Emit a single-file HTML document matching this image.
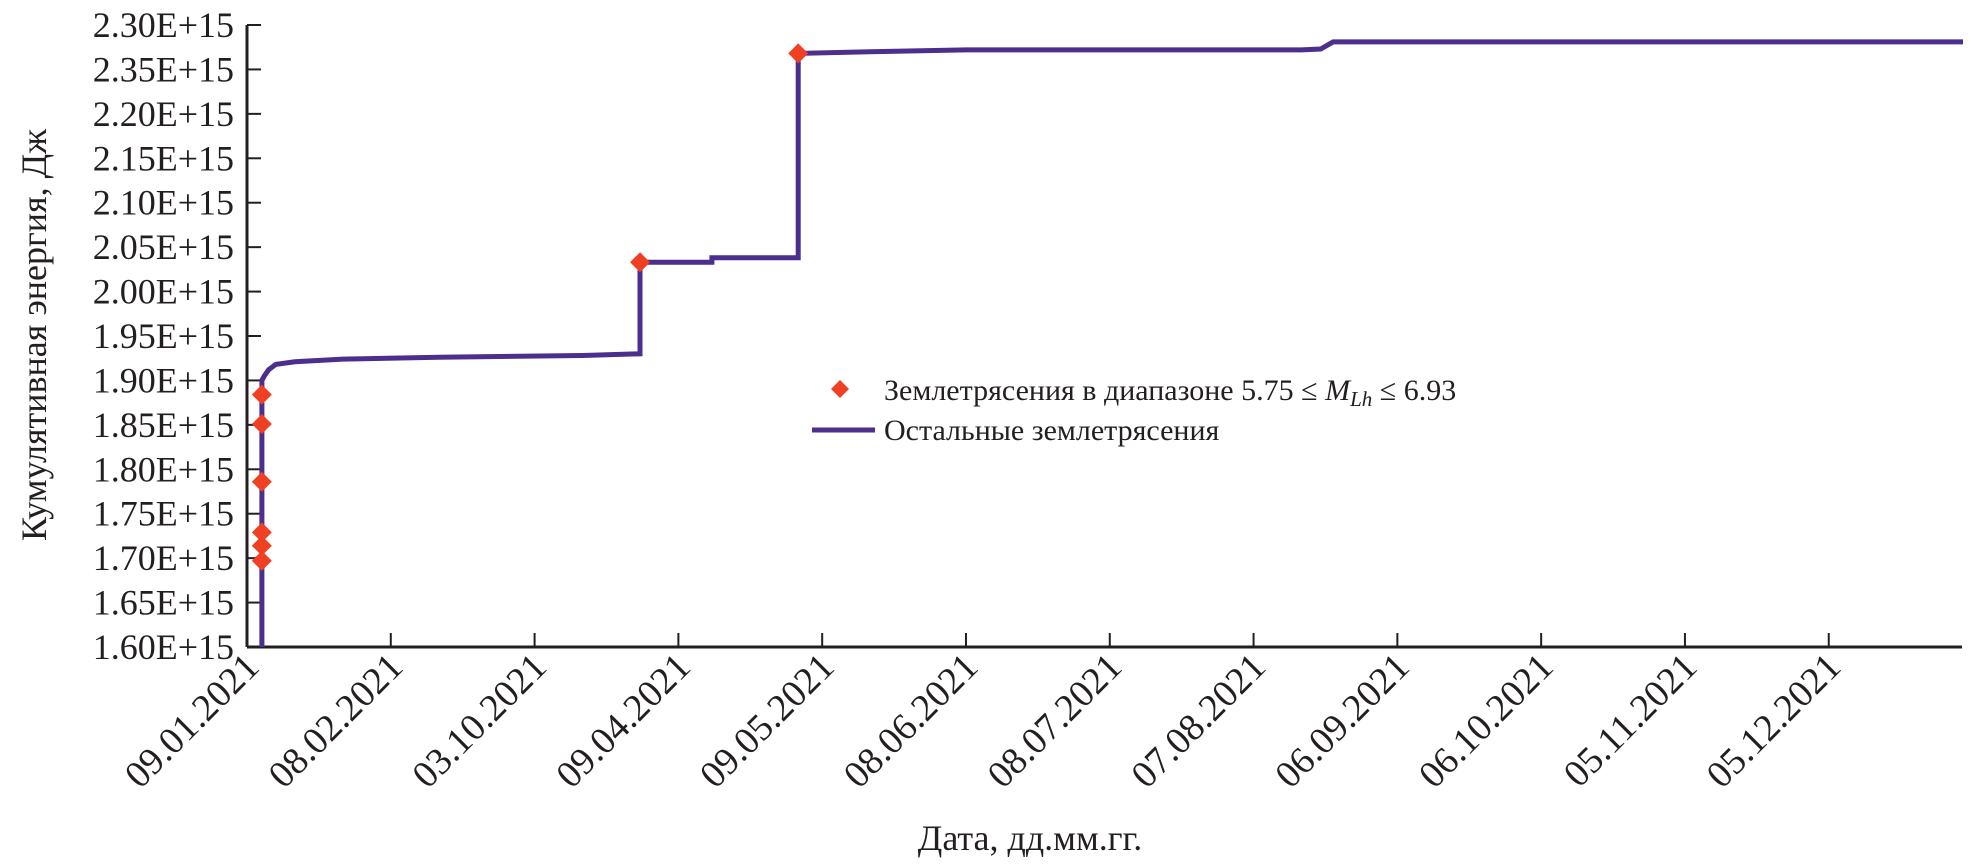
<!DOCTYPE html>
<html><head><meta charset="utf-8">
<style>
html,body{margin:0;padding:0;background:#fff;}
svg{display:block;}
svg text{font-family:"Liberation Serif","DejaVu Serif",serif !important;fill:#231f20;}
</style></head>
<body>
<svg id="chart" width="1971" height="865" viewBox="0 0 1971 865" xmlns="http://www.w3.org/2000/svg" font-family="Liberation Serif, serif">
<g id="axes"></g>
<g id="series"></g>
<text font-family="Liberation Serif, serif" transform="translate(46,335) rotate(-90)" text-anchor="middle" font-size="36">Кумулятивная энергия, Дж</text>
<text font-family="Liberation Serif, serif" x="1030" y="850" text-anchor="middle" font-size="36">Дата, дд.мм.гг.</text>
<g>
  <path d="M840,380 L849,389 L840,398 L831,389 Z" fill="#ef4023"/>
  <text font-family="Liberation Serif, serif" x="884" y="400" font-size="30">Землетрясения в диапазоне 5.75 ≤ <tspan font-style="italic">M</tspan><tspan font-style="italic" font-size="21" dy="6">Lh</tspan><tspan dy="-6"> ≤ 6.93</tspan></text>
  <line x1="812" y1="430" x2="875" y2="430" stroke="#4b2e8e" stroke-width="5"/>
  <text font-family="Liberation Serif, serif" x="884" y="440" font-size="30">Остальные землетрясения</text>
</g>
</svg>
<script>
const yTickValues = [1.60,1.65,1.70,1.75,1.80,1.85,1.90,1.95,2.00,2.05,2.10,2.15,2.20,2.25,2.30];
const yTickLabels = ["1.60E+15","1.65E+15","1.70E+15","1.75E+15","1.80E+15","1.85E+15","1.90E+15","1.95E+15","2.00E+15","2.05E+15","2.10E+15","2.15E+15","2.20E+15","2.35E+15","2.30E+15"];
const xTickDays = [0,30,60,90,120,150,180,210,240,270,300,330];
const xTickLabels = ["09.01.2021","08.02.2021","03.10.2021","09.04.2021","09.05.2021","08.06.2021","08.07.2021","07.08.2021","06.09.2021","06.10.2021","05.11.2021","05.12.2021"];
const lineDays = [3.1,3.1,3.6,4.5,6,10,20,40,70,82,82,97,97,115,115,130,150,220,224,226.6,358];
const lineValues = [1.60,1.90,1.905,1.912,1.918,1.921,1.924,1.926,1.928,1.93,2.033,2.033,2.038,2.038,2.268,2.27,2.272,2.272,2.273,2.281,2.281];
const markerDays = [3.1,3.1,3.1,3.1,3.1,3.1,82,115];
const markerValues = [1.884,1.851,1.786,1.729,1.714,1.697,2.033,2.268];

const NS="http://www.w3.org/2000/svg";
const X0=247, X1=1962, Y0=647, Y1=25;
const dMin=0, dMax=357.8, vMin=1.60, vMax=2.30;
function xs(d){return X0+(d-dMin)/(dMax-dMin)*(X1-X0);}
function ys(v){return Y0-(v-vMin)/(vMax-vMin)*(Y0-Y1);}
function mk(tag,attrs,parent){const e=document.createElementNS(NS,tag);for(const k in attrs)e.setAttribute(k,attrs[k]);parent.appendChild(e);return e;}
const axes=document.getElementById('axes'), series=document.getElementById('series');

let a=mk('line',{x1:X0,y1:Y1,x2:X0,y2:Y0,stroke:'#231f20','stroke-width':3},axes);


a=mk('line',{x1:X0,y1:Y0,x2:X1,y2:Y0,stroke:'#231f20','stroke-width':3},axes);



yTickValues.forEach((v,i)=>{
  const y=ys(v);
  const t=mk('line',{x1:X0,y1:y,x2:X0+14,y2:y,stroke:'#231f20','stroke-width':2},axes);
  
  
  const l=mk('text',{x:234,y:y+12,'text-anchor':'end','font-size':36,'font-family':'Liberation Serif, serif'},axes);
  
  
  l.textContent=yTickLabels[i];
});
xTickDays.forEach((d,i)=>{
  const x=xs(d);
  if(i>0){
    const t=mk('line',{x1:x,y1:Y0,x2:x,y2:Y0-14,stroke:'#231f20','stroke-width':2},axes);
    
    
  }
  const l=mk('text',{transform:`translate(${x+14},${Y0+22}) rotate(-45)`,'text-anchor':'end','font-size':38,'font-family':'Liberation Serif, serif'},axes);
  
  
  l.textContent=xTickLabels[i];
});

const pts=lineDays.map((d,i)=>xs(d).toFixed(1)+','+ys(lineValues[i]).toFixed(1)).join(' ');
const pl=mk('polyline',{points:pts,fill:'none',stroke:'#4b2e8e','stroke-width':5,'stroke-linejoin':'miter'},series);



markerDays.forEach((d,i)=>{
  const x=xs(d), y=ys(markerValues[i]), r=10;
  const m=mk('path',{d:`M${x},${y-r} L${x+r},${y} L${x},${y+r} L${x-r},${y} Z`,fill:'#ef4023'},series);
  
  
});
</script>
</body></html>
